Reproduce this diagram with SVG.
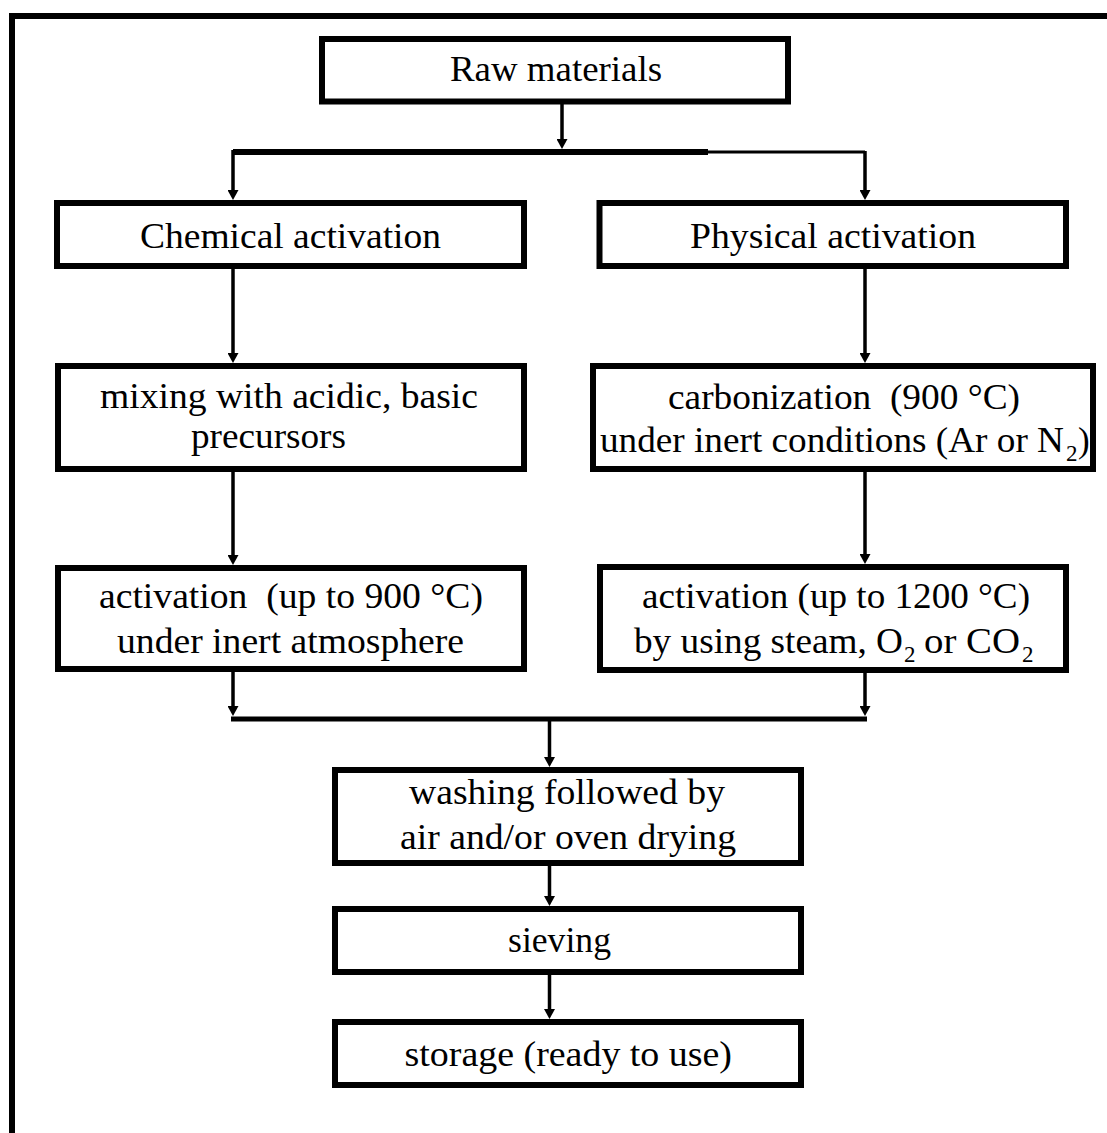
<svg xmlns="http://www.w3.org/2000/svg" width="1107" height="1133" viewBox="0 0 1107 1133">
<defs>
<style>
.box{fill:#fff;stroke:#000;stroke-width:6}
.t{font-family:"Liberation Serif","Times New Roman",serif;font-size:35px;fill:#000}
.s{font-family:"Liberation Serif","Times New Roman",serif;font-size:23px;fill:#000}
.c{stroke:#000;stroke-width:3.5;fill:none}
.ca{stroke:#000;stroke-width:3.5;fill:none;marker-end:url(#ah)}
</style>
<marker id="ah" markerUnits="userSpaceOnUse" markerWidth="11" markerHeight="11" viewBox="0 0 10 11" refX="0" refY="5.5" orient="auto">
<path d="M0,0 L10,5.5 L0,11 z" fill="#000"/>
</marker>
</defs>
<rect width="1107" height="1133" fill="#fff"/>
<path d="M12,1133 V16 H1107" fill="none" stroke="#000" stroke-width="6"/>

<g id="connectors">
<line class="ca" x1="562" y1="104" x2="562" y2="139"/>
<line x1="233" y1="152" x2="708" y2="152" stroke="#000" stroke-width="6"/>
<line x1="708" y1="152" x2="865" y2="152" stroke="#000" stroke-width="3"/>
<line class="ca" x1="233" y1="150" x2="233" y2="190"/>
<line class="ca" x1="865" y1="151" x2="865" y2="190"/>
<line class="ca" x1="233" y1="269" x2="233" y2="353"/>
<line class="ca" x1="865" y1="269" x2="865" y2="353"/>
<line class="ca" x1="233" y1="472" x2="233" y2="555"/>
<line class="ca" x1="865" y1="472" x2="865" y2="554"/>
<line class="ca" x1="233" y1="672" x2="233" y2="706"/>
<line class="ca" x1="865" y1="673" x2="865" y2="706"/>
<line x1="231" y1="719" x2="867" y2="719" stroke="#000" stroke-width="5"/>
<line class="ca" x1="549.5" y1="721" x2="549.5" y2="757"/>
<line class="ca" x1="549.5" y1="866" x2="549.5" y2="896"/>
<line class="ca" x1="549.5" y1="975" x2="549.5" y2="1009"/>
</g>

<g id="raw">
<rect class="box" x="322" y="39" width="466" height="62.5"/>
<text class="t" x="450" y="81" textLength="212" lengthAdjust="spacingAndGlyphs">Raw materials</text>
</g>

<g id="chemical">
<rect class="box" x="57" y="203" width="467" height="63"/>
<text class="t" x="140" y="248" textLength="301" lengthAdjust="spacingAndGlyphs">Chemical activation</text>
</g>

<g id="physical">
<rect class="box" x="599.5" y="203" width="466.5" height="63"/>
<text class="t" x="690" y="248" textLength="286" lengthAdjust="spacingAndGlyphs">Physical activation</text>
</g>

<g id="mixing">
<rect class="box" x="58" y="366" width="466" height="103"/>
<text class="t" x="100" y="408" textLength="378" lengthAdjust="spacingAndGlyphs">mixing with acidic, basic</text>
<text class="t" x="191" y="448" textLength="155" lengthAdjust="spacingAndGlyphs">precursors</text>
</g>

<g id="carbonization">
<rect class="box" x="593" y="366" width="500" height="103"/>
<text class="t" x="668" y="409" textLength="352" lengthAdjust="spacingAndGlyphs">carbonization&#160; (900 °C)</text>
<text class="t" x="600" y="452" textLength="464" lengthAdjust="spacingAndGlyphs">under inert conditions (Ar or N</text>
<text class="s" x="1066" y="461">2</text>
<text class="t" x="1078" y="452">)</text>
</g>

<g id="activation-chem">
<rect class="box" x="58" y="568" width="466" height="101"/>
<text class="t" x="99" y="608" textLength="384" lengthAdjust="spacingAndGlyphs">activation&#160; (up to 900 °C)</text>
<text class="t" x="117" y="653" textLength="347" lengthAdjust="spacingAndGlyphs">under inert atmosphere</text>
</g>

<g id="activation-phys">
<rect class="box" x="600" y="567" width="466" height="103"/>
<text class="t" x="642" y="608" textLength="388" lengthAdjust="spacingAndGlyphs">activation (up to 1200 °C)</text>
<text class="t" x="634" y="653" textLength="269" lengthAdjust="spacingAndGlyphs">by using steam, O</text>
<text class="s" x="904" y="662">2</text>
<text class="t" x="924" y="653" textLength="96" lengthAdjust="spacingAndGlyphs">or CO</text>
<text class="s" x="1022" y="662">2</text>
</g>

<g id="washing">
<rect class="box" x="335" y="770" width="466" height="93"/>
<text class="t" x="409" y="804" textLength="316" lengthAdjust="spacingAndGlyphs">washing followed by</text>
<text class="t" x="400" y="849" textLength="336" lengthAdjust="spacingAndGlyphs">air and/or oven drying</text>
</g>

<g id="sieving">
<rect class="box" x="335" y="909" width="466" height="63"/>
<text class="t" x="508" y="952" textLength="103" lengthAdjust="spacingAndGlyphs">sieving</text>
</g>

<g id="storage">
<rect class="box" x="335" y="1022" width="466" height="63"/>
<text class="t" x="404.5" y="1066" textLength="327.5" lengthAdjust="spacingAndGlyphs">storage (ready to use)</text>
</g>
</svg>
